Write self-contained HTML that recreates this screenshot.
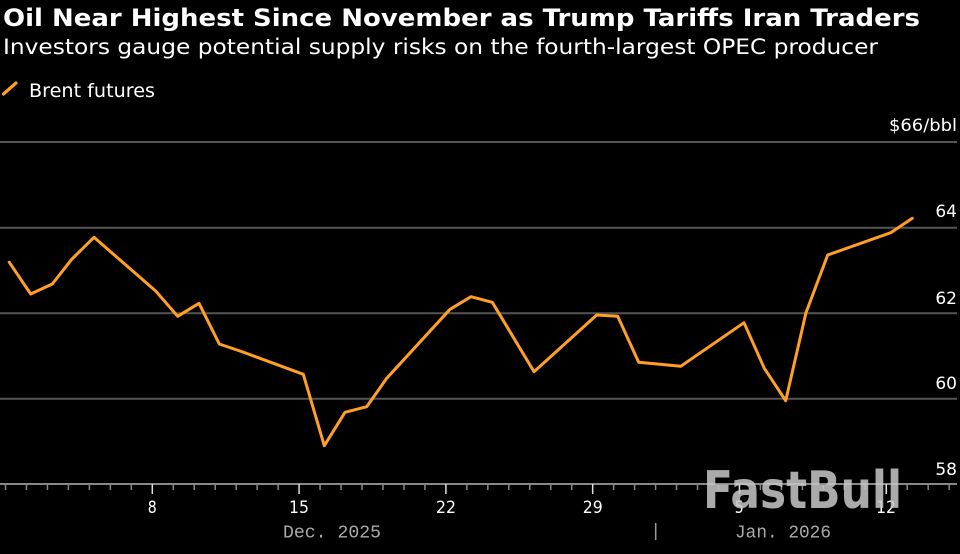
<!DOCTYPE html>
<html><head><meta charset="utf-8"><style>
html,body{margin:0;padding:0;background:#000;}
svg{display:block;}
</style></head><body>
<svg width="960" height="554" viewBox="0 0 960 554" xmlns="http://www.w3.org/2000/svg">
<rect width="960" height="554" fill="#000"/>
<text x="3" y="26" fill="#fff" font-family="DejaVu Sans, Liberation Sans, sans-serif" font-weight="bold" font-size="24" textLength="917" lengthAdjust="spacingAndGlyphs">Oil Near Highest Since November as Trump Tariffs Iran Traders</text>
<text x="3" y="54" fill="#fff" font-family="DejaVu Sans, Liberation Sans, sans-serif" font-size="21" textLength="875" lengthAdjust="spacingAndGlyphs">Investors gauge potential supply risks on the fourth-largest OPEC producer</text>
<line x1="3.5" y1="94" x2="16" y2="83" stroke="#FF9F26" stroke-width="3.2" stroke-linecap="round"/>
<text x="29" y="97" fill="#fff" font-family="DejaVu Sans, Liberation Sans, sans-serif" font-size="19" textLength="126" lengthAdjust="spacingAndGlyphs">Brent futures</text>
<g stroke="#555" stroke-width="2">
<line x1="0" y1="142" x2="957" y2="142"/>
<line x1="0" y1="227.8" x2="957" y2="227.8"/>
<line x1="0" y1="313.2" x2="957" y2="313.2"/>
<line x1="0" y1="398.7" x2="957" y2="398.7"/>
</g>
<g fill="#fff" font-family="DejaVu Sans, Liberation Sans, sans-serif" font-size="17" text-anchor="end">
<text x="957" y="131" textLength="68" lengthAdjust="spacingAndGlyphs">$66/bbl</text>
<text x="957" y="217">64</text>
<text x="957" y="304">62</text>
<text x="957" y="389">60</text>
<text x="957" y="475">58</text>
</g>
<polyline fill="none" stroke="#FF9F26" stroke-width="3" stroke-linejoin="round" stroke-linecap="round" points="9.3,262.3 30.7,294 52.3,284 71.7,259.3 94,237.3 155.7,291 177.7,316.3 199,303.3 219.3,344 240,351 303.3,374.3 324.3,445.7 345,412.3 366.7,406.7 386.7,378.3 450,309.3 471,296.7 492.3,302.3 534,371.7 596.7,315 617.7,316.3 638.7,362.3 680.7,366.3 744,322.7 764.3,368.3 785.7,400.7 806,312.7 827.7,255 890.7,232.7 912.3,218.3"/>
<line x1="0" y1="484" x2="957" y2="484" stroke="#888" stroke-width="2"/>
<g id="ticks" stroke="#888" stroke-width="1.5"></g>
<g fill="#fff" font-family="DejaVu Sans, Liberation Sans, sans-serif" font-size="17" text-anchor="middle">
<text x="152.3" y="513" textLength="9" lengthAdjust="spacingAndGlyphs">8</text>
<text x="299" y="513" textLength="20" lengthAdjust="spacingAndGlyphs">15</text>
<text x="446" y="513" textLength="20" lengthAdjust="spacingAndGlyphs">22</text>
<text x="592.8" y="513" textLength="20" lengthAdjust="spacingAndGlyphs">29</text>
<text x="739.3" y="513" textLength="9" lengthAdjust="spacingAndGlyphs">5</text>
<text x="886" y="513" textLength="20" lengthAdjust="spacingAndGlyphs">12</text>
</g>
<g fill="#aaa" font-family="Liberation Mono, DejaVu Sans Mono, monospace" font-size="18">
<text x="283" y="537.5" textLength="98" lengthAdjust="spacingAndGlyphs">Dec. 2025</text>
<text x="735" y="537.5" textLength="96" lengthAdjust="spacingAndGlyphs">Jan. 2026</text>
</g>
<line x1="655.7" y1="523" x2="655.7" y2="540" stroke="#999" stroke-width="1.5"/>
<text x="703" y="508" fill="#c8c8c8" fill-opacity="0.85" font-family="DejaVu Sans, Liberation Sans, sans-serif" font-weight="bold" font-size="52" textLength="199" lengthAdjust="spacingAndGlyphs">FastBull</text>
</svg>
<script>
(function(){
var g=document.getElementById('ticks');var ns='http://www.w3.org/2000/svg';
var x0=152.3-7*20.97;
for(var d=0;d<46;d++){
 var x=x0+d*20.97; if(x<0||x>957) continue;
 var day=d+1; var major=(day===8||day===15||day===22||day===29||day===36||day===43);
 var l=document.createElementNS(ns,'line');
 l.setAttribute('x1',x);l.setAttribute('x2',x);
 l.setAttribute('y1',484);l.setAttribute('y2',major?494:490);
 if(major){l.setAttribute('stroke','#ddd');}
 g.appendChild(l);
}
})();
</script>
</body></html>
